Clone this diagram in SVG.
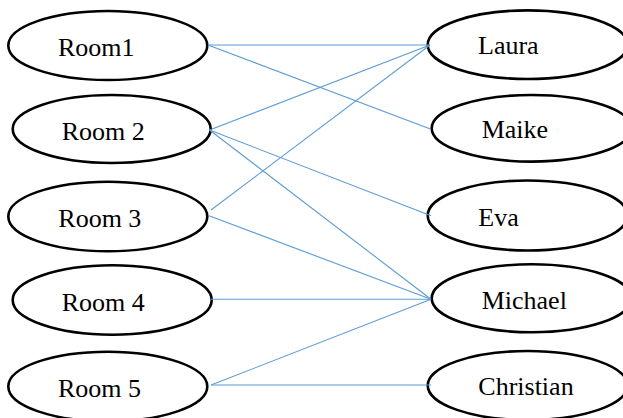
<svg xmlns="http://www.w3.org/2000/svg" width="623" height="418" viewBox="0 0 623 418">
<style>
.n ellipse{fill:#fff;stroke:#000;stroke-width:2.6}
.n text{font-size:26px;fill:#000}
.c line{stroke:#5B9BD5;stroke-width:1.1;fill:none}
</style>
<rect width="623" height="418" fill="#fff"/>
<g font-family="Liberation Serif, serif">
<g id="room1" class="n"><ellipse cx="107.8" cy="45.5" rx="99.5" ry="34.5"/><text x="58" y="55.7">Room1</text></g>
<g id="room2" class="n"><ellipse cx="111.7" cy="129" rx="99" ry="34"/><text x="61.7" y="140">Room 2</text></g>
<g id="room3" class="n"><ellipse cx="107.8" cy="216.5" rx="99.5" ry="34.8"/><text x="58.3" y="226.7">Room 3</text></g>
<g id="room4" class="n"><ellipse cx="112.2" cy="300" rx="99.5" ry="34.7"/><text x="61.7" y="311">Room 4</text></g>
<g id="room5" class="n"><ellipse cx="107.8" cy="386.5" rx="99.5" ry="34.8"/><text x="58" y="396.7">Room 5</text></g>
<g id="laura" class="n"><ellipse cx="527.7" cy="44.7" rx="100" ry="34.3"/><text x="478" y="54.3">Laura</text></g>
<g id="maike" class="n"><ellipse cx="531.7" cy="128.3" rx="100" ry="33.3"/><text x="481.7" y="137.7">Maike</text></g>
<g id="eva" class="n"><ellipse cx="527.7" cy="215.5" rx="100" ry="35"/><text x="478.3" y="226">Eva</text></g>
<g id="michael" class="n"><ellipse cx="531.7" cy="298.3" rx="100" ry="34"/><text x="481.7" y="309">Michael</text></g>
<g id="christian" class="n"><ellipse cx="527.7" cy="385.5" rx="100" ry="34.5"/><text x="478.3" y="395">Christian</text></g>
</g>
<g id="connectors" class="c">
<line x1="208" y1="45" x2="430" y2="45"/>
<line x1="208" y1="45" x2="431" y2="129.3"/>
<line x1="209.5" y1="130" x2="430" y2="45"/>
<line x1="209.5" y1="130" x2="431" y2="215.7"/>
<line x1="209.5" y1="130" x2="431" y2="299.3"/>
<line x1="211" y1="210" x2="430" y2="45"/>
<line x1="209" y1="215.7" x2="431" y2="299.3"/>
<line x1="211" y1="299.3" x2="431" y2="299.3"/>
<line x1="211" y1="385" x2="431" y2="299.3"/>
<line x1="211" y1="385" x2="431" y2="385"/>
</g>
</svg>
